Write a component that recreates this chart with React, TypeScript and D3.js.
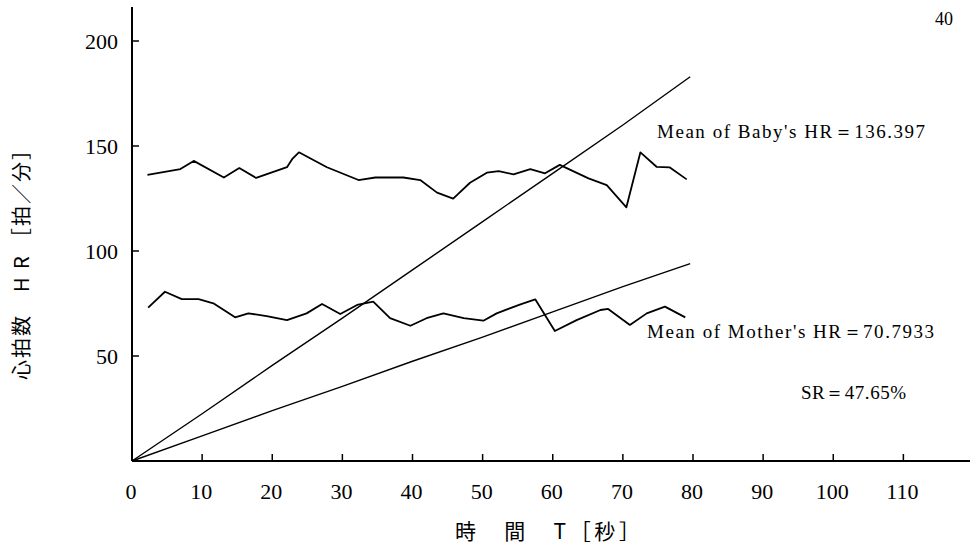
import React, { useEffect } from 'react';
import * as d3 from 'd3';

const xTicks = [0, 10, 20, 30, 40, 50, 60, 70, 80, 90, 100, 110];
const yTicks = [50, 100, 150, 200];

const babyT = [2.2, 6.9, 8.8, 13.1, 15.3, 17.7, 22.1, 22.9, 23.8, 27.8, 32.3, 34.7, 38.7, 41.1, 43.5, 45.8, 48.2, 50.6, 52.3, 54.4, 56.8, 58.9, 61.0, 65.1, 67.7, 70.5, 72.5, 74.8, 76.7, 79.1];
const babyHR = [136.2, 139, 142.9, 135, 139.5, 134.8, 139.9, 144, 147, 139.9, 133.8, 135, 135, 133.8, 127.8, 124.9, 132.5, 137.3, 138, 136.5, 139, 137, 141, 134.6, 131.4, 120.8, 147, 140.1, 139.8, 134.1];

const motherT = [2.3, 4.7, 7.1, 9.5, 11.6, 14.7, 16.6, 19.2, 22.1, 24.9, 27.1, 29.7, 32.1, 34.4, 36.8, 39.7, 42.0, 44.4, 47.3, 50.1, 52.0, 55.4, 57.5, 60.3, 63.4, 66.8, 67.9, 71.0, 73.4, 76.0, 78.9];
const motherHR = [73, 80.6, 77.1, 77.1, 75.1, 68.4, 70.3, 69, 67.1, 70.3, 74.8, 70, 74.3, 75.9, 68, 64.4, 68, 70.3, 68, 66.8, 70.3, 74.6, 77, 61.9, 67.1, 71.9, 72.4, 64.8, 70.3, 73.5, 68.4];

const cumT = [0, 10, 20, 30, 40, 50, 60, 70, 79.6];
const babyCum = [0, 22.5, 45.5, 68, 91, 114, 137, 160, 183];
const motherCum = [0, 12, 24, 35.5, 47.5, 59, 71, 83, 94];

const babyLabel = "Mean of Baby's HR＝136.397";
const motherLabel = "Mean of Mother's HR＝70.7933";
const srLabel = "SR＝47.65%";
const pageNo = "40";
const yLabel = "心拍数　H R ［拍／分］";
const xLabel = "時　間　T［秒］";

const W = 970, H = 551;
const x = d3.scaleLinear().domain([0, 119.5]).range([132, 970]);
const y = d3.scaleLinear().domain([0, 200]).range([461, 41]);

const serif = '"Liberation Serif", "DejaVu Serif", serif';
const cjk = '"Noto Sans CJK JP", "Liberation Serif", serif';

export default function App() {
  useEffect(() => {
    document.body.style.margin = '0';
  }, []);
  const line = d3.line<[number, number]>().x(d => x(d[0])).y(d => y(d[1]));
  const babyPts = babyT.map((t, i) => [t, babyHR[i]] as [number, number]);
  const motherPts = motherT.map((t, i) => [t, motherHR[i]] as [number, number]);
  const babyCumPts = cumT.map((t, i) => [t, babyCum[i]] as [number, number]);
  const motherCumPts = cumT.map((t, i) => [t, motherCum[i]] as [number, number]);
  const yTop = y.invert(7);
  return (
    <svg width={W} height={H} style={{ display: 'block', background: '#fff' }}>
      <rect width={W} height={H} fill="#fff" />
      {/* axes */}
      <line x1={x(0)} x2={x(0)} y1={y(yTop)} y2={y(0)} stroke="#000" strokeWidth={2} />
      <line x1={x(0)} x2={W} y1={y(0)} y2={y(0)} stroke="#000" strokeWidth={2} />
      {yTicks.map(v => (
        <g key={'y' + v}>
          <line x1={x(0)} x2={x(0) + 7} y1={y(v)} y2={y(v)} stroke="#000" strokeWidth={1.5} />
          <text x={x(0) - 14} y={y(v)} dy="0.35em" textAnchor="end" fontFamily={serif} fontSize={22}>{v}</text>
        </g>
      ))}
      {xTicks.map(v => (
        <g key={'x' + v}>
          {v > 0 && <line x1={x(v)} x2={x(v)} y1={y(0)} y2={y(0) - 7} stroke="#000" strokeWidth={1.5} />}
          <text x={x(v) - 1} y={491} dy="0.35em" textAnchor="middle" fontFamily={serif} fontSize={22}>{v}</text>
        </g>
      ))}
      {/* series */}
      <path d={line(babyCumPts) || ''} fill="none" stroke="#000" strokeWidth={1.4} />
      <path d={line(motherCumPts) || ''} fill="none" stroke="#000" strokeWidth={1.4} />
      <path d={line(babyPts) || ''} fill="none" stroke="#000" strokeWidth={1.8} strokeLinejoin="round" />
      <path d={line(motherPts) || ''} fill="none" stroke="#000" strokeWidth={1.8} strokeLinejoin="round" />
      {/* annotations */}
      <text x={657} y={138} fontFamily={serif} fontSize={19} textLength={268} lengthAdjust="spacing">{babyLabel}</text>
      <text x={647} y={338} fontFamily={serif} fontSize={19} textLength={287} lengthAdjust="spacing">{motherLabel}</text>
      <text x={801} y={399} fontFamily={serif} fontSize={19} textLength={105} lengthAdjust="spacing">{srLabel}</text>
      <text x={935} y={25} fontFamily={serif} fontSize={18}>{pageNo}</text>
      {/* axis titles */}
      <text transform="translate(22,260) rotate(-90)" textAnchor="middle" dy="0.35em" fontFamily={cjk} fontSize={20} textLength={240} lengthAdjust="spacing">{yLabel}</text>
      <text x={455} y={532} dy="0.35em" fontFamily={cjk} fontSize={21} textLength={185} lengthAdjust="spacing">{xLabel}</text>
    </svg>
  );
}
